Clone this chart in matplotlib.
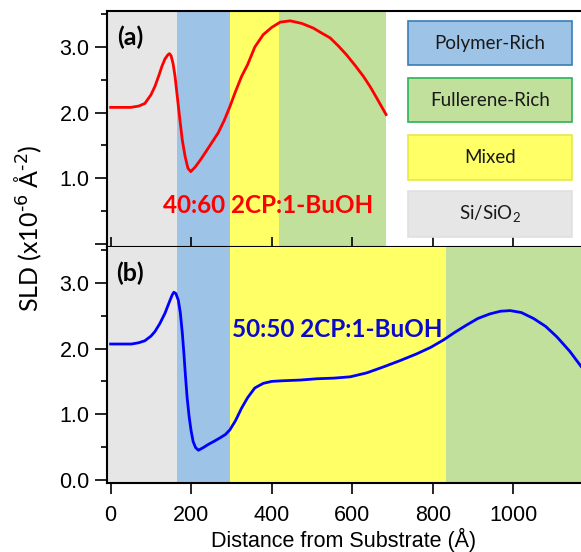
import matplotlib
matplotlib.use("Agg")
import matplotlib.pyplot as plt
from matplotlib.patches import Rectangle

# ---------------- data ----------------
xa = [0, 30, 50, 70, 85, 100, 110, 120, 127, 135, 142, 146, 150, 155, 160, 166, 172, 178, 185,
      192, 199, 210, 222, 234, 250, 267, 282, 296, 310, 325, 340, 358, 379, 400, 421, 446, 475,
      503, 525, 545, 565, 586, 607, 628, 645, 661, 684]
ya = [2.08, 2.08, 2.08, 2.10, 2.14, 2.27, 2.40, 2.57, 2.70, 2.82, 2.88, 2.90, 2.87, 2.75, 2.55,
      2.22, 1.89, 1.58, 1.33, 1.15, 1.10, 1.17, 1.27, 1.38, 1.53, 1.69, 1.88, 2.09, 2.32, 2.55,
      2.73, 3.00, 3.19, 3.30, 3.38, 3.40, 3.36, 3.29, 3.21, 3.14, 3.02, 2.88, 2.72, 2.55, 2.39,
      2.22, 1.97]

xb = [0, 30, 52, 70, 85, 100, 110, 122, 135, 147, 153, 157, 162, 168, 173, 178, 182, 186, 190,
      195, 200, 205, 211, 218, 230, 243, 258, 272, 285, 296, 310, 325, 340, 358, 379, 400, 429,
      470, 512, 555, 595, 636, 677, 720, 760, 795, 826, 855, 884, 912, 942, 968, 992, 1020, 1050,
      1080, 1108, 1140, 1168]
yb = [2.07, 2.07, 2.07, 2.09, 2.12, 2.19, 2.26, 2.38, 2.54, 2.73, 2.82, 2.86, 2.84, 2.74, 2.55,
      2.24, 1.92, 1.57, 1.25, 0.96, 0.74, 0.58, 0.49, 0.45, 0.49, 0.54, 0.59, 0.64, 0.69, 0.76,
      0.90, 1.09, 1.25, 1.40, 1.47, 1.50, 1.51, 1.52, 1.54, 1.55, 1.57, 1.63, 1.72, 1.82, 1.92,
      2.02, 2.13, 2.25, 2.36, 2.46, 2.53, 2.57, 2.58, 2.55, 2.46, 2.34, 2.18, 1.96, 1.73]

# region boundaries (Å)
bounds_a = [164, 296, 419, 684]      # end of Si, Polymer, Mixed, Fullerene
bounds_b = [164, 297, 832, 1300]
region_names = ["Polymer-Rich", "Fullerene-Rich", "Mixed", "Si/SiO$_2$"]
label_a = "40:60 2CP:1-BuOH"
label_b = "50:50 2CP:1-BuOH"
xticks = [0, 200, 400, 600, 800, 1000]
yticks = [0.0, 1.0, 2.0, 3.0]
yminor = [0.5, 1.5, 2.5, 3.5]

# ---------------- style ----------------
C_GRAY = "#E6E6E6"
C_BLUE = "#9DC3E6"
C_YEL = "#FFFF66"
C_GRN = "#C0E09C"
CAL = ["Lato", "DejaVu Sans"]
ARIAL = ["Liberation Sans", "DejaVu Sans"]
plt.rcParams["mathtext.default"] = "regular"
plt.rcParams["font.family"] = ARIAL

W, H = 581, 552
fig = plt.figure(figsize=(W / 100, H / 100), dpi=100)
L = 107 / W
axA = fig.add_axes([L, 1 - 247 / H, 1 - L, 236 / H])
axB = fig.add_axes([L, 1 - 483 / H, 1 - L, 236 / H])

XMIN, XMAX = -9, 1168
YMIN, YMAX = -0.05, 3.55


def bands(ax, b):
    ax.axvspan(XMIN, b[0], color=C_GRAY, lw=0, zorder=0)
    ax.axvspan(b[0], b[1], color=C_BLUE, lw=0, zorder=0)
    ax.axvspan(b[1], b[2], color=C_YEL, lw=0, zorder=0)
    ax.axvspan(b[2], b[3], color=C_GRN, lw=0, zorder=0)


bands(axA, bounds_a)
bands(axB, bounds_b)
axA.plot(xa, ya, color="#FF0000", lw=2.0, zorder=3)
axB.plot(xb, yb, color="#0000FF", lw=2.0, zorder=3)

for ax in (axA, axB):
    ax.set_xlim(XMIN, XMAX)
    ax.set_ylim(YMIN, YMAX)
    ax.set_xticks(xticks)
    ax.set_yticks(yticks)
    ax.set_yticks(yminor, minor=True)
    ax.spines["right"].set_visible(False)
    for s in ("left", "top", "bottom"):
        ax.spines[s].set_linewidth(1.5)
    ax.tick_params(axis="y", which="major", direction="out", length=8.5, width=1.2,
                   labelsize=15.5, pad=4)
    ax.tick_params(axis="y", which="minor", direction="out", length=4.5, width=1.2)

axA.set_yticklabels(["", "1.0", "2.0", "3.0"])
axB.set_yticklabels(["0.0", "1.0", "2.0", "3.0"])
axA.tick_params(axis="x", direction="in", length=7.5, width=1.2, labelbottom=False)
axB.tick_params(axis="x", direction="out", length=8, width=1.2, labelsize=15.5, pad=8)
axB.spines["top"].set_visible(False)
axB.set_xlabel("Distance from Substrate (Å)", fontsize=15.5, labelpad=1)

# panel labels and annotations
axA.text(0.022, 0.89, "(a)", transform=axA.transAxes, fontsize=18, fontweight="bold",
         family=CAL, ha="left", va="center", zorder=5)
axB.text(0.020, 0.89, "(b)", transform=axB.transAxes, fontsize=18, fontweight="bold",
         family=CAL, ha="left", va="center", zorder=5)
axA.text(131, 0.59, label_a, color="#FF0000", fontsize=17.5, fontweight="bold",
         family=CAL, ha="left", va="center", zorder=5)
axB.text(301, 2.29, label_b, color="#0A0AC8", fontsize=17.5, fontweight="bold",
         family=CAL, ha="left", va="center", zorder=5)

fig.text(28 / W, 1 - 228 / H, r"SLD (x10$^{\text{-6}}$ Å$^{\text{-2}}$)", rotation=90,
         fontsize=18, family=CAL, ha="center", va="center")

# legend boxes (figure pixel layout)
boxes = [
    (21, 65, "#9DC3E6", "#3A7DB8"),
    (78, 122, "#C0E09C", "#2DB35A"),
    (135, 180, "#FFFF66", "#E8E84A"),
    (191, 237, "#E6E6E6", "#E0E0E0"),
]
x0, x1 = 408, 572
for (yt, yb_, fc, ec), name in zip(boxes, region_names):
    r = Rectangle((x0 / W, 1 - yb_ / H), (x1 - x0) / W, (yb_ - yt) / H,
                  transform=fig.transFigure, facecolor=fc, edgecolor=ec, lw=1.2, zorder=6)
    fig.patches.append(r)
    fig.text((x0 + x1) / 2 / W, 1 - (yt + yb_) / 2 / H, name, fontsize=13.5, family=CAL,
             ha="center", va="center", color="#1a1a1a", zorder=7)

fig.savefig("out.png", dpi=100)
